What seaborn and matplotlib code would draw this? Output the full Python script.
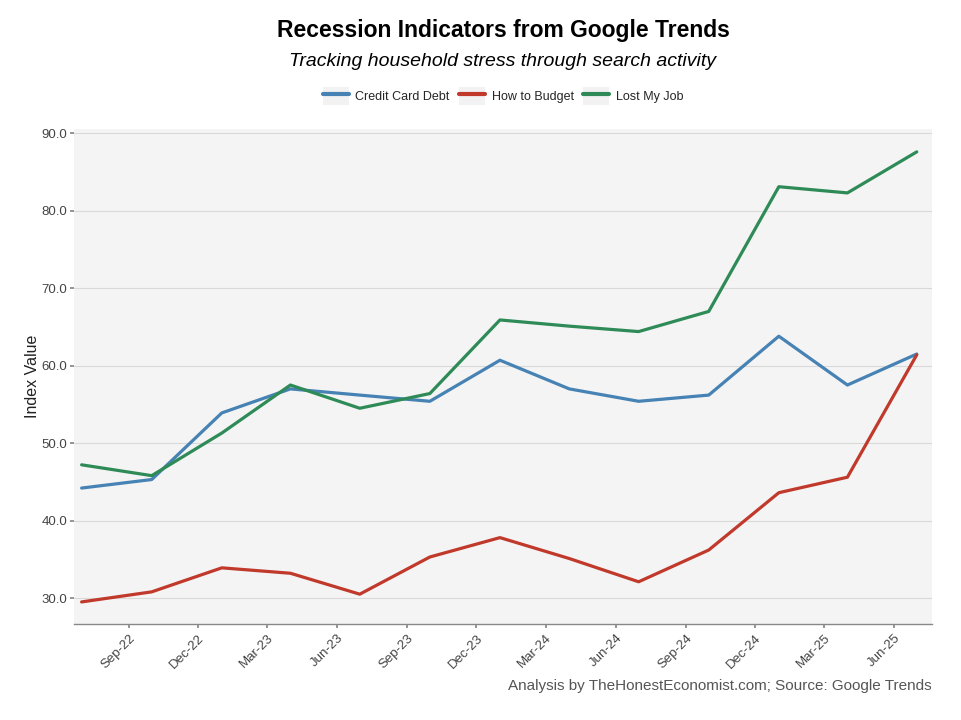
import matplotlib
matplotlib.use("Agg")
import matplotlib.pyplot as plt
import matplotlib.dates as mdates
from matplotlib.patches import Rectangle
from matplotlib.lines import Line2D
from matplotlib.legend_handler import HandlerTuple
import seaborn as sns
import pandas as pd
import numpy as np

# quarterly observations, Jul-22 .. Jul-25
dates = pd.date_range("2022-07-01", "2025-07-01", freq="QS")
credit_card_debt = [44.2, 45.3, 53.9, 57.0, 56.2, 55.4, 60.7, 57.0, 55.4, 56.2, 63.8, 57.5, 61.5]
how_to_budget = [29.5, 30.8, 33.9, 33.2, 30.5, 35.3, 37.8, 35.1, 32.1, 36.2, 43.6, 45.6, 61.4]
lost_my_job = [47.2, 45.8, 51.3, 57.5, 54.5, 56.4, 65.9, 65.1, 64.4, 67.0, 83.1, 82.3, 87.6]

series_names = ["Credit Card Debt", "How to Budget", "Lost My Job"]
colors = {"Credit Card Debt": "#4682B4", "How to Budget": "#C0392B", "Lost My Job": "#2E8B57"}

df = pd.DataFrame({
    "date": np.tile(dates, 3),
    "series": np.repeat(series_names, len(dates)),
    "value": credit_card_debt + how_to_budget + lost_my_job,
})

sns.set_theme(style="white")
plt.rcParams["font.family"] = ["Liberation Sans", "DejaVu Sans"]

fig = plt.figure(figsize=(9.62, 7.2), dpi=100)
ax = fig.add_axes([74 / 962, 1 - 624 / 720, (932 - 74) / 962, (624 - 129) / 720])
ax.set_facecolor("#f4f4f4")

sns.lineplot(data=df, x="date", y="value", hue="series", palette=colors,
             linewidth=2.3, ax=ax, legend=False)

ax.set_xlim(dates[0] - pd.Timedelta(days=10), dates[-1] + pd.Timedelta(days=20))
ax.set_ylim(26.65, 90.55)
ax.set_yticks([30, 40, 50, 60, 70, 80, 90])
ax.yaxis.set_major_formatter(matplotlib.ticker.FormatStrFormatter("%.1f"))
ax.xaxis.set_major_locator(mdates.MonthLocator(bymonth=[3, 6, 9, 12]))
ax.xaxis.set_major_formatter(mdates.DateFormatter("%b-%y"))
ax.grid(axis="y", color="#d9d9d9", linewidth=0.8)
ax.grid(axis="x", visible=False)

for side in ["top", "right", "left"]:
    ax.spines[side].set_visible(False)
ax.spines["bottom"].set_color("#888888")
ax.spines["bottom"].set_linewidth(1.0)

ax.tick_params(axis="both", which="major", length=3, color="#888888",
               labelsize=9.5, labelcolor="#444444", bottom=True, left=True)
ax.tick_params(axis="y", pad=2)
ax.tick_params(axis="x", pad=3)
plt.setp(ax.get_xticklabels(), rotation=45, ha="right", rotation_mode="anchor")

ax.set_xlabel("")
ax.set_ylabel("Index Value", fontsize=11.5, color="#222222", labelpad=1)

cx = (74 + 932) / 2 / 962
fig.text(cx, 1 - 31 / 720, "Recession Indicators from Google Trends",
         ha="center", va="center", fontsize=16.5, fontweight="bold", color="black")
fig.text(cx, 1 - 61 / 720, "Tracking household stress through search activity",
         ha="center", va="center", fontsize=14, fontstyle="italic", color="black")

handles = [(Rectangle((0, 0), 1, 1, facecolor="#f2f2f2", edgecolor="none"),
            Line2D([], [], color=colors[s], linewidth=3)) for s in series_names]
fig.legend(handles, series_names, loc="center", bbox_to_anchor=(cx, 1 - 96 / 720),
           ncol=3, frameon=False, fontsize=9, handlelength=2.1, handleheight=1.8,
           handletextpad=0.5, columnspacing=0.75,
           handler_map={tuple: HandlerTuple(ndivide=1)})

fig.text(932 / 962, 1 - 686 / 720,
         "Analysis by TheHonestEconomist.com; Source: Google Trends",
         ha="right", va="center", fontsize=11, color="#555555")

fig.savefig("out.png", dpi=100)
